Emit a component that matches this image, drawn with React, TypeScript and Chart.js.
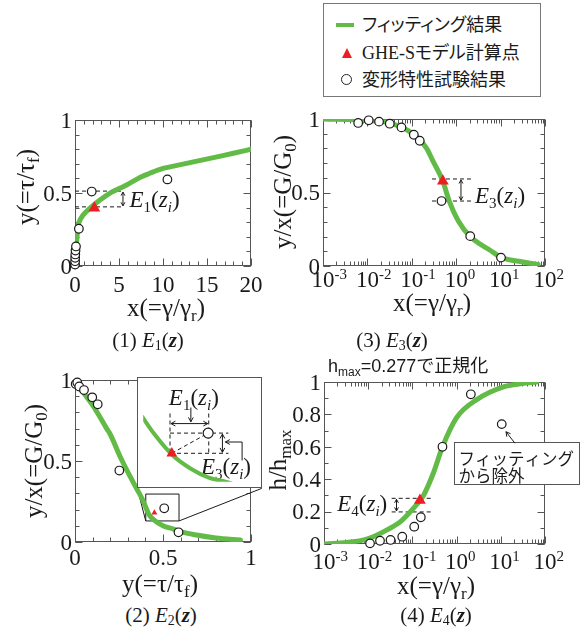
import React, { useEffect, useRef } from 'react';
import { Chart, registerables } from 'chart.js';
Chart.register(...registerables);

const GREEN = '#62bb46';
const RED = '#ee1d23';
const INK = '#1a1a1a';
const FRAME = '#555';
const SERIF = '"Liberation Serif", "Times New Roman", "DejaVu Serif", serif';
const JP = '"Noto Sans CJK JP", "Noto Sans", sans-serif';
const SANS = '"Liberation Sans", "Noto Sans CJK JP", sans-serif';
const TICK_FS = 23;
const TITLE_FS = 25;
const ANN_FS = 23;
const MAJOR_LEN = 7;
const MINOR_LEN = 4;

// ---------- (1) E1 : y vs x ----------
const P1_CURVE_X = [0, 0.05, 0.15, 0.2, 0.32, 0.5, 0.9, 1.65, 2.8, 3.9, 5.8, 7.5, 8.5, 10, 12, 14, 16, 18, 20];
const P1_CURVE_Y = [0, 0.04, 0.14, 0.175, 0.265, 0.305, 0.347, 0.393, 0.45, 0.496, 0.553, 0.61, 0.635, 0.668, 0.694, 0.72, 0.746, 0.772, 0.8];
const P1_CIRC_X = [0.006, 0.011, 0.018, 0.032, 0.059, 0.11, 0.44, 1.9, 10.5];
const P1_CIRC_Y = [0.01, 0.033, 0.056, 0.079, 0.106, 0.134, 0.255, 0.51, 0.593];
const P1_TRI_X = [2.2];
const P1_TRI_Y = [0.397];

// ---------- (3) E3 : y/x vs x (log) ----------
const P3_CURVE_X = [0.001, 0.01, 0.03, 0.1, 0.214, 0.3, 0.49, 0.7, 1.1, 2.07, 5.8, 10.2, 32, 70];
const P3_CURVE_Y = [1.0, 0.99, 0.975, 0.904, 0.802, 0.713, 0.585, 0.44, 0.31, 0.2, 0.107, 0.06, 0.027, 0.01];
const P3_CIRC_X = [0.0062, 0.0107, 0.0183, 0.0319, 0.0585, 0.111, 0.151, 0.467, 2.07, 10.2];
const P3_CIRC_Y = [0.973, 0.991, 0.982, 0.968, 0.943, 0.893, 0.852, 0.442, 0.203, 0.057];
const P3_TRI_X = [0.5];
const P3_TRI_Y = [0.578];

// ---------- (2) E2 : y/x vs y ----------
const P2_CURVE_X = [0.05, 0.1, 0.14, 0.18, 0.2, 0.256, 0.313, 0.35, 0.38, 0.4, 0.42, 0.45, 0.5, 0.56, 0.6, 0.69, 0.8, 0.94];
const P2_CURVE_Y = [0.92, 0.845, 0.775, 0.7, 0.665, 0.528, 0.405, 0.33, 0.27, 0.22, 0.17, 0.135, 0.1, 0.08, 0.064, 0.043, 0.025, 0.012];
const P2_CIRC_X = [0.004, 0.013, 0.024, 0.051, 0.098, 0.129, 0.252, 0.507, 0.588];
const P2_CIRC_Y = [0.975, 0.985, 0.96, 0.938, 0.893, 0.85, 0.441, 0.208, 0.06];
const P2_TRI_X = [0.451];
const P2_TRI_Y = [0.181];
// magnified inset
const INSET_CURVE_X = [0.4, 0.421, 0.45, 0.482, 0.512, 0.54, 0.56];
const INSET_CURVE_Y = [0.24, 0.21, 0.176, 0.152, 0.137, 0.13, 0.124];
const INSET_CIRC_X = [0.511];
const INSET_CIRC_Y = [0.212];
const INSET_TRI_X = [0.45];
const INSET_TRI_Y = [0.178];

// ---------- (4) E4 : h/hmax vs x (log) ----------
const P4_CURVE_X = [0.001, 0.002, 0.004, 0.008, 0.013, 0.026, 0.052, 0.105, 0.178, 0.3, 0.48, 1, 2.8, 11.5, 30, 65];
const P4_CURVE_Y = [0, 0.004, 0.012, 0.025, 0.045, 0.086, 0.135, 0.22, 0.3, 0.44, 0.6, 0.78, 0.89, 0.97, 0.99, 1.0];
const P4_CIRC_X = [0.011, 0.0185, 0.032, 0.059, 0.11, 0.155, 0.479, 2.1, 10.5];
const P4_CIRC_Y = [0.004, 0.02, 0.025, 0.045, 0.107, 0.165, 0.6, 0.924, 0.74];
const P4_TRI_X = [0.148];
const P4_TRI_Y = [0.27];

// ---------- ticks ----------
const X_TICKS_0_20 = [0, 5, 10, 15, 20];
const TICKS_HALF = [0, 0.5, 1];
const TICKS_FIFTH = [0, 0.2, 0.4, 0.6, 0.8, 1];
const LOG_TICKS = [1e-3, 1e-2, 1e-1, 1e0, 1e1, 1e2];
const LOG_EXP = ['-3', '-2', '-1', '0', '1', '2'];

const LEGEND_LABELS = ['フィッティング結果', 'GHE-Sモデル計算点', '変形特性試験結果'];
const NOTE_LINES = ['フィッティング', 'から除外'];

type Seg = { t: string; i?: boolean; b?: boolean; sub?: boolean; sup?: boolean };
type Fn = (v: number) => number;

const pts = (xs: number[], ys: number[]) => xs.map((x, i) => ({ x, y: ys[i] }));
const linMinor = (min: number, max: number, step: number) => {
  const out: number[] = [];
  const n = Math.round((max - min) / step);
  for (let k = 0; k <= n; k++) out.push(min + k * step);
  return out;
};
const logMinor = () => {
  const out: number[] = [];
  for (let d = -3; d <= 1; d++) for (let k = 2; k <= 9; k++) out.push(k * Math.pow(10, d));
  return out;
};
const fmt = (v: number) => String(v);

function segFont(s: Seg, size: number, fam: string) {
  const sz = s.sub || s.sup ? Math.round(size * 0.66) : size;
  return `${s.i ? 'italic ' : ''}${s.b ? 'bold ' : ''}${sz}px ${fam}`;
}
function segsWidth(ctx: CanvasRenderingContext2D, segs: Seg[], size: number, fam: string) {
  let w = 0;
  for (const s of segs) {
    ctx.font = segFont(s, size, fam);
    w += ctx.measureText(s.t).width;
  }
  return w;
}
function drawRich(ctx: CanvasRenderingContext2D, segs: Seg[], x: number, y: number, size: number, fam: string, align = 'left') {
  ctx.save();
  const w = segsWidth(ctx, segs, size, fam);
  let cx = align === 'center' ? x - w / 2 : align === 'right' ? x - w : x;
  const base = y + size * 0.34;
  ctx.fillStyle = INK;
  ctx.textAlign = 'left';
  ctx.textBaseline = 'alphabetic';
  for (const s of segs) {
    ctx.font = segFont(s, size, fam);
    const dy = s.sub ? size * 0.22 : s.sup ? -size * 0.36 : 0;
    ctx.fillText(s.t, cx, base + dy);
    cx += ctx.measureText(s.t).width;
  }
  ctx.restore();
}
function drawRichRot(ctx: CanvasRenderingContext2D, segs: Seg[], cx: number, cy: number, size: number, fam: string) {
  ctx.save();
  ctx.translate(cx, cy);
  ctx.rotate(-Math.PI / 2);
  drawRich(ctx, segs, 0, 0, size, fam, 'center');
  ctx.restore();
}
function path(ctx: CanvasRenderingContext2D, p: number[][], dash = false) {
  ctx.save();
  ctx.strokeStyle = INK;
  ctx.lineWidth = 1;
  if (dash) ctx.setLineDash([4, 3]);
  ctx.beginPath();
  p.forEach(([x, y], i) => (i ? ctx.lineTo(x, y) : ctx.moveTo(x, y)));
  ctx.stroke();
  ctx.restore();
}
function head(ctx: CanvasRenderingContext2D, x: number, y: number, ang: number, size = 5) {
  ctx.save();
  ctx.strokeStyle = INK;
  ctx.lineWidth = 1;
  ctx.beginPath();
  ctx.moveTo(x - size * Math.cos(ang - 0.5), y - size * Math.sin(ang - 0.5));
  ctx.lineTo(x, y);
  ctx.lineTo(x - size * Math.cos(ang + 0.5), y - size * Math.sin(ang + 0.5));
  ctx.stroke();
  ctx.restore();
}
function arrow(ctx: CanvasRenderingContext2D, x0: number, y0: number, x1: number, y1: number, both: boolean, size = 5) {
  path(ctx, [[x0, y0], [x1, y1]]);
  const a = Math.atan2(y1 - y0, x1 - x0);
  head(ctx, x1, y1, a, size);
  if (both) head(ctx, x0, y0, a + Math.PI, size);
}
const eLabel = (n: string): Seg[] => [{ t: 'E', i: true }, { t: n, sub: true }, { t: '(' }, { t: 'z', i: true }, { t: 'i', i: true, sub: true }, { t: ')' }];

interface PanelCfg {
  box: { left: number; top: number; width: number; height: number };
  area: { l: number; t: number; r: number; b: number };
  xLog: boolean; xMin: number; xMax: number; yMin: number; yMax: number;
  xMajor: number[]; xMinor: number[]; yMajor: number[]; yMinor: number[];
  xLabelDy: number;
  xTitle: { segs: Seg[]; cx: number; cy: number };
  yTitle: { segs: Seg[]; cx: number; cy: number };
  curve: { x: number; y: number }[]; circ: { x: number; y: number }[]; tri: { x: number; y: number }[];
  triR: number;
  annotate?: (ctx: CanvasRenderingContext2D, X: Fn, Y: Fn) => void;
  overlay?: (ctx: CanvasRenderingContext2D, X: Fn, Y: Fn) => void;
  extra?: (ctx: CanvasRenderingContext2D, ox: number, oy: number) => void;
}

function datasets(curve: any[], circ: any[], tri: any[], triR: number, circR: number, lineW: number) {
  return [
    { data: tri, pointStyle: 'triangle', pointRadius: triR, backgroundColor: RED, borderColor: RED, borderWidth: 0, clip: false },
    { data: circ, pointStyle: 'circle', pointRadius: circR, backgroundColor: '#fff', borderColor: INK, borderWidth: 1.2, clip: false },
    { data: curve, showLine: true, pointRadius: 0, borderColor: GREEN, backgroundColor: GREEN, borderWidth: lineW, cubicInterpolationMode: 'monotone', borderCapStyle: 'round', borderJoinStyle: 'round' },
  ];
}

function makeDeco(cfg: PanelCfg) {
  const getXY = (chart: any) => {
    const X = (v: number) => chart.scales.x.getPixelForValue(v);
    const Y = (v: number) => chart.scales.y.getPixelForValue(v);
    return { X, Y };
  };
  return {
    id: 'deco',
    beforeDatasetsDraw(chart: any) {
      const ctx: CanvasRenderingContext2D = chart.ctx;
      const a = chart.chartArea;
      const { X, Y } = getXY(chart);
      ctx.save();
      ctx.strokeStyle = FRAME;
      ctx.lineWidth = 1;
      const L = Math.round(a.left) + 0.5, R = Math.round(a.right) - 0.5, T = Math.round(a.top) + 0.5, B = Math.round(a.bottom) - 0.5;
      ctx.strokeRect(L, T, R - L, B - T);
      const vt = (px: number, len: number) => {
        const x = Math.round(px) + 0.5;
        ctx.beginPath(); ctx.moveTo(x, B); ctx.lineTo(x, B - len); ctx.moveTo(x, T); ctx.lineTo(x, T + len); ctx.stroke();
      };
      const ht = (py: number, len: number) => {
        const y = Math.round(py) + 0.5;
        ctx.beginPath(); ctx.moveTo(L, y); ctx.lineTo(L + len, y); ctx.moveTo(R, y); ctx.lineTo(R - len, y); ctx.stroke();
      };
      cfg.xMinor.forEach((v) => vt(X(v), MINOR_LEN));
      cfg.xMajor.forEach((v) => vt(X(v), MAJOR_LEN));
      cfg.yMinor.forEach((v) => ht(Y(v), MINOR_LEN));
      cfg.yMajor.forEach((v) => ht(Y(v), MAJOR_LEN));
      ctx.restore();
      if (cfg.annotate) cfg.annotate(ctx, X, Y);
    },
    afterDatasetsDraw(chart: any) {
      const { X, Y } = getXY(chart);
      if (cfg.overlay) cfg.overlay(chart.ctx, X, Y);
    },
    afterDraw(chart: any) {
      const ctx: CanvasRenderingContext2D = chart.ctx;
      const a = chart.chartArea;
      const { X, Y } = getXY(chart);
      cfg.xMajor.forEach((v, i) => {
        const px = X(v);
        const cy = a.bottom + cfg.xLabelDy;
        if (cfg.xLog) {
          ctx.font = `${TICK_FS}px ${SERIF}`;
          const w10 = ctx.measureText('10').width;
          drawRich(ctx, [{ t: '10' }, { t: LOG_EXP[i], sup: true }], px - w10 / 2, cy, TICK_FS, SERIF, 'left');
        } else {
          drawRich(ctx, [{ t: fmt(v) }], px, cy, TICK_FS, SERIF, 'center');
        }
      });
      cfg.yMajor.forEach((v) => drawRich(ctx, [{ t: fmt(v) }], a.left - 3, Y(v), TICK_FS, SERIF, 'right'));
      const ox = cfg.box.left, oy = cfg.box.top;
      drawRich(ctx, cfg.xTitle.segs, cfg.xTitle.cx - ox, cfg.xTitle.cy - oy, TITLE_FS, SERIF, 'center');
      drawRichRot(ctx, cfg.yTitle.segs, cfg.yTitle.cx - ox, cfg.yTitle.cy - oy, TITLE_FS, SERIF);
      if (cfg.extra) cfg.extra(ctx, ox, oy);
    },
  };
}

function buildPanel(canvas: HTMLCanvasElement, cfg: PanelCfg, circR = 4.3) {
  const padding = {
    left: cfg.area.l - cfg.box.left,
    top: cfg.area.t - cfg.box.top,
    right: cfg.box.left + cfg.box.width - cfg.area.r,
    bottom: cfg.box.top + cfg.box.height - cfg.area.b,
  };
  return new Chart(canvas, {
    type: 'scatter',
    data: { datasets: datasets(cfg.curve, cfg.circ, cfg.tri, cfg.triR, circR, 5) as any },
    options: {
      animation: false,
      responsive: false,
      events: [],
      layout: { padding },
      plugins: { legend: { display: false }, tooltip: { enabled: false } },
      scales: {
        x: { type: cfg.xLog ? 'logarithmic' : 'linear', min: cfg.xMin, max: cfg.xMax, display: false },
        y: { type: 'linear', min: cfg.yMin, max: cfg.yMax, display: false },
      },
    } as any,
    plugins: [makeDeco(cfg)],
  });
}

// ---------- annotations (data units) ----------
const P1_ANN = { x0: 0, x1: 5.45, yHi: 0.513, yLo: 0.405, arrowX: 5.45, labelX: 6.2, labelY: 0.458 };
const P3_ANN = { x0: 0.285, x1: 2.27, yHi: 0.592, yLo: 0.442, arrowX: 1.28, labelX: 2.66, labelY: 0.485 };
const P4_ANN = { x0: 0.034, x1: 0.295, yHi: 0.282, yLo: 0.198, arrowX: 0.0437, labelX: 0.027, labelY: 0.251 };
const ZOOM_BOX = { x0: 0.402, x1: 0.591, y0: 0.13, y1: 0.296 };
const INSET_BOX = { x0: 0.354, x1: 1.061, y0: 0.331, y1: 1.017 };
const NOTE = { x0: 0.887, x1: 597, yTop: 0.628, yBot: 0.37, from: [20.9, 0.622], to: [13.1, 0.693] };
const INSET_ANN = {
  xTri: 0.447, xCirc: 0.512, yTop: 0.245, yCirc: 0.212, yTri: 0.178, yE1: 0.228, xRight: 0.545, xE3: 0.535,
  e1Label: [0.487, 0.272], e1Arrow: [0.482, 0.255, 0.231],
  elbow: [[0.568, 0.166], [0.568, 0.197], [0.54, 0.197]], e3Label: [0.541, 0.157],
};

const errorBracket = (ann: typeof P1_ANN, n: string, align: string) => (ctx: CanvasRenderingContext2D, X: Fn, Y: Fn) => {
  path(ctx, [[X(ann.x0), Y(ann.yHi)], [X(ann.x1), Y(ann.yHi)]], true);
  path(ctx, [[X(ann.x0), Y(ann.yLo)], [X(ann.x1), Y(ann.yLo)]], true);
  arrow(ctx, X(ann.arrowX), Y(ann.yHi) + 1, X(ann.arrowX), Y(ann.yLo) - 1, true, 4);
  drawRich(ctx, eLabel(n), X(ann.labelX), Y(ann.labelY), ANN_FS, SERIF, align);
};

const P1: PanelCfg = {
  box: { left: 0, top: 95, width: 270, height: 235 },
  area: { l: 75, t: 120, r: 251, b: 266 },
  xLog: false, xMin: 0, xMax: 20, yMin: 0, yMax: 1,
  xMajor: X_TICKS_0_20, xMinor: linMinor(0, 20, 1), yMajor: TICKS_HALF, yMinor: linMinor(0, 1, 0.1),
  xLabelDy: 18,
  xTitle: { segs: [{ t: 'x(=γ/γ' }, { t: 'r', sub: true }, { t: ')' }], cx: 166, cy: 307 },
  yTitle: { segs: [{ t: 'y(=τ/τ' }, { t: 'f', sub: true }, { t: ')' }], cx: 25, cy: 187 },
  curve: pts(P1_CURVE_X, P1_CURVE_Y), circ: pts(P1_CIRC_X, P1_CIRC_Y), tri: pts(P1_TRI_X, P1_TRI_Y), triR: 6.8,
  annotate: errorBracket(P1_ANN, '1', 'left'),
};

const P3: PanelCfg = {
  box: { left: 265, top: 95, width: 322, height: 235 },
  area: { l: 323, t: 119, r: 545, b: 266 },
  xLog: true, xMin: 1e-3, xMax: 1e2, yMin: 0, yMax: 1,
  xMajor: LOG_TICKS, xMinor: logMinor(), yMajor: TICKS_HALF, yMinor: linMinor(0, 1, 0.1),
  xLabelDy: 13,
  xTitle: { segs: [{ t: 'x(=γ/γ' }, { t: 'r', sub: true }, { t: ')' }], cx: 432, cy: 302 },
  yTitle: { segs: [{ t: 'y/x(=G/G' }, { t: '0', sub: true }, { t: ')' }], cx: 282, cy: 192 },
  curve: pts(P3_CURVE_X, P3_CURVE_Y), circ: pts(P3_CIRC_X, P3_CIRC_Y), tri: pts(P3_TRI_X, P3_TRI_Y), triR: 6.8,
  annotate: errorBracket(P3_ANN, '3', 'left'),
};

const P2: PanelCfg = {
  box: { left: 0, top: 355, width: 266, height: 245 },
  area: { l: 75, t: 380, r: 251, b: 542 },
  xLog: false, xMin: 0, xMax: 1, yMin: 0, yMax: 1,
  xMajor: TICKS_HALF, xMinor: linMinor(0, 1, 0.1), yMajor: TICKS_HALF, yMinor: linMinor(0, 1, 0.1),
  xLabelDy: 15,
  xTitle: { segs: [{ t: 'y(=τ/τ' }, { t: 'f', sub: true }, { t: ')' }], cx: 160, cy: 583 },
  yTitle: { segs: [{ t: 'y/x(=G/G' }, { t: '0', sub: true }, { t: ')' }], cx: 33, cy: 461 },
  curve: pts(P2_CURVE_X, P2_CURVE_Y), circ: pts(P2_CIRC_X, P2_CIRC_Y), tri: pts(P2_TRI_X, P2_TRI_Y), triR: 3.4,
  annotate: (ctx, X, Y) => {
    const l = X(ZOOM_BOX.x0), r = X(ZOOM_BOX.x1), t = Y(ZOOM_BOX.y1), b = Y(ZOOM_BOX.y0);
    path(ctx, [[l, t], [r, t], [r, b], [l, b], [l, t]]);
    path(ctx, [[l, b], [X(INSET_BOX.x0), Y(INSET_BOX.y0)]]);
    path(ctx, [[r, b], [X(INSET_BOX.x1), Y(INSET_BOX.y0)]]);
  },
};

const P4: PanelCfg = {
  box: { left: 262, top: 345, width: 325, height: 255 },
  area: { l: 324, t: 382, r: 545, b: 544 },
  xLog: true, xMin: 1e-3, xMax: 1e2, yMin: 0, yMax: 1,
  xMajor: LOG_TICKS, xMinor: logMinor(), yMajor: TICKS_FIFTH, yMinor: linMinor(0, 1, 0.1),
  xLabelDy: 17.5,
  xTitle: { segs: [{ t: 'x(=γ/γ' }, { t: 'r', sub: true }, { t: ')' }], cx: 436, cy: 585 },
  yTitle: { segs: [{ t: 'h/h' }, { t: 'max', sub: true }], cx: 277, cy: 460 },
  curve: pts(P4_CURVE_X, P4_CURVE_Y), circ: pts(P4_CIRC_X, P4_CIRC_Y), tri: pts(P4_TRI_X, P4_TRI_Y), triR: 6.8,
  annotate: errorBracket(P4_ANN, '4', 'right'),
  overlay: (ctx, X, Y) => {
    const l = Math.round(X(NOTE.x0)) + 0.5, r = Math.round(X(NOTE.x1)) + 0.5;
    const t = Math.round(Y(NOTE.yTop)) + 0.5, b = Math.round(Y(NOTE.yBot)) + 0.5;
    ctx.save();
    ctx.fillStyle = '#fff';
    ctx.fillRect(l, t, r - l, b - t);
    ctx.strokeStyle = FRAME;
    ctx.lineWidth = 1;
    ctx.strokeRect(l, t, r - l, b - t);
    ctx.fillStyle = INK;
    ctx.font = `16.5px ${JP}`;
    ctx.textBaseline = 'middle';
    ctx.textAlign = 'left';
    ctx.fillText(NOTE_LINES[0], l + 4, t + 16);
    ctx.fillText(NOTE_LINES[1], l + 4, t + 33);
    ctx.restore();
    arrow(ctx, X(NOTE.from[0]), Y(NOTE.from[1]), X(NOTE.to[0]), Y(NOTE.to[1]), false, 5);
  },
  extra: (ctx, ox, oy) => {
    drawRich(ctx, [{ t: 'h' }, { t: 'max', sub: true }, { t: '=0.277で正規化' }], 328 - ox, 366 - oy, 18, SANS, 'left');
  },
};

function buildInset(canvas: HTMLCanvasElement) {
  const deco = {
    id: 'insetDeco',
    beforeDraw(chart: any) {
      const ctx = chart.ctx;
      ctx.save();
      ctx.fillStyle = '#fff';
      ctx.fillRect(0, 0, chart.width, chart.height);
      ctx.restore();
    },
    beforeDatasetsDraw(chart: any) {
      const ctx: CanvasRenderingContext2D = chart.ctx;
      const X = (v: number) => chart.scales.x.getPixelForValue(v);
      const Y = (v: number) => chart.scales.y.getPixelForValue(v);
      const A = INSET_ANN;
      path(ctx, [[X(A.xTri), Y(A.yTop)], [X(A.xTri), Y(A.yTri)]], true);
      path(ctx, [[X(A.xCirc), Y(A.yTop)], [X(A.xCirc), Y(A.yTri)]], true);
      path(ctx, [[X(A.xTri), Y(A.yCirc)], [X(A.xRight), Y(A.yCirc)]], true);
      path(ctx, [[X(A.xTri), Y(A.yTri)], [X(A.xRight), Y(A.yTri)]], true);
      path(ctx, [[X(INSET_TRI_X[0]), Y(INSET_TRI_Y[0])], [X(INSET_CIRC_X[0]), Y(INSET_CIRC_Y[0])]], true);
      arrow(ctx, X(A.xTri) + 1, Y(A.yE1), X(A.xCirc) - 1, Y(A.yE1), true, 5);
      arrow(ctx, X(A.xE3), Y(A.yCirc) + 1, X(A.xE3), Y(A.yTri) - 1, true, 5);
      arrow(ctx, X(A.e1Arrow[0]), Y(A.e1Arrow[1]), X(A.e1Arrow[0]), Y(A.e1Arrow[2]), false, 5);
      const e = A.elbow.map(([x, y]) => [X(x), Y(y)]);
      path(ctx, e);
      head(ctx, e[2][0], e[2][1], Math.PI, 5);
      drawRich(ctx, eLabel('1'), X(A.e1Label[0]), Y(A.e1Label[1]), ANN_FS, SERIF, 'center');
      drawRich(ctx, eLabel('3'), X(A.e3Label[0]), Y(A.e3Label[1]), ANN_FS, SERIF, 'center');
    },
    afterDraw(chart: any) {
      const ctx = chart.ctx;
      ctx.save();
      ctx.strokeStyle = FRAME;
      ctx.lineWidth = 1;
      ctx.strokeRect(0.5, 0.5, chart.width - 1, chart.height - 1);
      ctx.restore();
    },
  };
  return new Chart(canvas, {
    type: 'scatter',
    data: { datasets: datasets(pts(INSET_CURVE_X, INSET_CURVE_Y), pts(INSET_CIRC_X, INSET_CIRC_Y), pts(INSET_TRI_X, INSET_TRI_Y), 6.2, 5, 4) as any },
    options: {
      animation: false,
      responsive: false,
      events: [],
      layout: { padding: 0 },
      plugins: { legend: { display: false }, tooltip: { enabled: false } },
      scales: {
        x: { type: 'linear', min: ZOOM_BOX.x0, max: ZOOM_BOX.x1, display: false },
        y: { type: 'linear', min: ZOOM_BOX.y0, max: ZOOM_BOX.y1, display: false },
      },
    } as any,
    plugins: [deco],
  });
}

const Caption = ({ n, cx, cy }: { n: string; cx: number; cy: number }) => (
  <div style={{ position: 'absolute', left: cx - 80, top: cy - 13, width: 160, height: 26, lineHeight: '26px', textAlign: 'center', fontFamily: SERIF, fontSize: 21, color: INK, whiteSpace: 'nowrap' }}>
    ({n}) <i>E</i><span style={{ fontSize: '0.66em', verticalAlign: '-0.25em' }}>{n}</span>(<b><i>z</i></b>)
  </div>
);

export default function App() {
  const r1 = useRef<HTMLCanvasElement>(null);
  const r2 = useRef<HTMLCanvasElement>(null);
  const r3 = useRef<HTMLCanvasElement>(null);
  const r4 = useRef<HTMLCanvasElement>(null);
  const r5 = useRef<HTMLCanvasElement>(null);

  useEffect(() => {
    const charts: Chart[] = [];
    charts.push(buildPanel(r1.current!, P1));
    charts.push(buildPanel(r3.current!, P3));
    const c2 = buildPanel(r2.current!, P2);
    charts.push(c2);
    charts.push(buildPanel(r4.current!, P4));
    const xs: any = c2.scales.x, ys: any = c2.scales.y;
    const l = Math.round(xs.getPixelForValue(INSET_BOX.x0));
    const r = Math.round(xs.getPixelForValue(INSET_BOX.x1));
    const t = Math.round(ys.getPixelForValue(INSET_BOX.y1));
    const b = Math.round(ys.getPixelForValue(INSET_BOX.y0));
    const ic = r5.current!;
    ic.width = r - l;
    ic.height = b - t;
    ic.style.left = `${l + P2.box.left}px`;
    ic.style.top = `${t + P2.box.top}px`;
    ic.style.width = `${r - l}px`;
    ic.style.height = `${b - t}px`;
    charts.push(buildInset(ic));
    return () => charts.forEach((c) => c.destroy());
  }, []);

  const cv = (ref: any, cfg: PanelCfg) => (
    <canvas ref={ref} width={cfg.box.width} height={cfg.box.height} style={{ position: 'absolute', left: cfg.box.left, top: cfg.box.top, width: cfg.box.width, height: cfg.box.height }} />
  );

  const rowStyle = (cy: number): React.CSSProperties => ({ position: 'absolute', left: 38, top: cy - 12, height: 24, lineHeight: '24px', fontSize: 18, whiteSpace: 'nowrap', fontFamily: `"Liberation Serif", "Times New Roman", ${JP}`, fontFeatureSettings: '"palt"', color: INK });

  return (
    <div style={{ position: 'absolute', left: 0, top: 0, width: 587, height: 633, background: '#fff', overflow: 'hidden' }}>
      <div style={{ position: 'absolute', left: 323, top: 3, width: 218, height: 94, border: '1px solid #777', boxSizing: 'border-box', background: '#fff' }}>
        <div style={{ position: 'absolute', left: 12, top: 19, width: 18, height: 4, background: GREEN }} />
        <div style={{ position: 'absolute', left: 18, top: 44, width: 0, height: 0, borderLeft: '5px solid transparent', borderRight: '5px solid transparent', borderBottom: `10px solid ${RED}` }} />
        <div style={{ position: 'absolute', left: 17, top: 70, width: 11, height: 11, borderRadius: '50%', border: '1.3px solid #222', boxSizing: 'border-box' }} />
        <div style={rowStyle(21)}>{LEGEND_LABELS[0]}</div>
        <div style={rowStyle(49)}>{LEGEND_LABELS[1]}</div>
        <div style={rowStyle(76)}>{LEGEND_LABELS[2]}</div>
      </div>
      {cv(r1, P1)}
      {cv(r3, P3)}
      {cv(r2, P2)}
      {cv(r4, P4)}
      <canvas ref={r5} style={{ position: 'absolute' }} />
      <Caption n="1" cx={148} cy={340} />
      <Caption n="3" cx={392} cy={340} />
      <Caption n="2" cx={161} cy={615} />
      <Caption n="4" cx={436} cy={615} />
    </div>
  );
}
